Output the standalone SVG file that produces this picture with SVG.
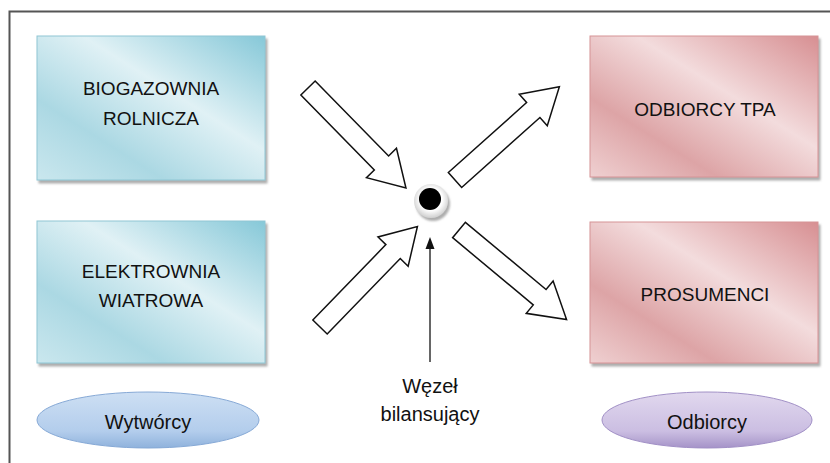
<svg xmlns="http://www.w3.org/2000/svg" xmlns:xlink="http://www.w3.org/1999/xlink" width="830" height="463" viewBox="0 0 830 463">
<style>
  .lbl{font-family:"Liberation Sans",Arial,sans-serif;font-size:19px;fill:#111;text-anchor:middle}
  .lbl2{font-family:"Liberation Sans",Arial,sans-serif;font-size:20px;fill:#111;text-anchor:middle}
  .blk{fill:#fff;stroke:#111;stroke-width:1.5;stroke-linejoin:miter}
</style>
<defs>
  <linearGradient id="gBlue" x1="1" y1="0" x2="0" y2="1">
    <stop offset="0" stop-color="#86c8d8"/>
    <stop offset="0.4" stop-color="#e0f1f5"/>
    <stop offset="0.72" stop-color="#abd8e3"/>
    <stop offset="1" stop-color="#cae7ee"/>
  </linearGradient>
  <linearGradient id="gPink" x1="1" y1="0" x2="0" y2="1">
    <stop offset="0" stop-color="#d78f92"/>
    <stop offset="0.4" stop-color="#f3dcdd"/>
    <stop offset="0.72" stop-color="#dda4a6"/>
    <stop offset="1" stop-color="#efd0d1"/>
  </linearGradient>
  <linearGradient id="gEB" x1="0" y1="0" x2="0" y2="1">
    <stop offset="0" stop-color="#cddff3"/>
    <stop offset="0.7" stop-color="#b3cdec"/>
    <stop offset="1" stop-color="#8fb2dc"/>
  </linearGradient>
  <linearGradient id="gEP" x1="0" y1="0" x2="0" y2="1">
    <stop offset="0" stop-color="#e1d8ee"/>
    <stop offset="0.7" stop-color="#cbbee2"/>
    <stop offset="1" stop-color="#a593c8"/>
  </linearGradient>
  <radialGradient id="gRing" cx="0.5" cy="0.45" r="0.55">
    <stop offset="0.6" stop-color="#ffffff"/>
    <stop offset="1" stop-color="#cfcfcf"/>
  </radialGradient>
  <filter id="sh" x="-10%" y="-10%" width="130%" height="130%">
    <feDropShadow dx="2" dy="3" stdDeviation="1.2" flood-color="#777" flood-opacity="0.6"/>
  </filter>
  <path id="blockArrow" class="blk" d="M0,-10 H105 V-21 L140,0 L105,21 V10 H0 Z"/>
</defs>

<rect width="830" height="463" fill="#fff"/>
<path d="M9.5,463 V11.5 H830" fill="none" stroke="#555" stroke-width="2"/>

<g id="biogazownia">
  <rect x="37" y="36" width="228" height="144" fill="url(#gBlue)" stroke="#8fc6d4" stroke-width="1" filter="url(#sh)"/>
  <text class="lbl" x="151" y="95">BIOGAZOWNIA</text>
  <text class="lbl" x="151" y="125">ROLNICZA</text>
</g>

<g id="elektrownia">
  <rect x="37" y="221" width="228" height="142" fill="url(#gBlue)" stroke="#8fc6d4" stroke-width="1" filter="url(#sh)"/>
  <text class="lbl" x="151" y="278">ELEKTROWNIA</text>
  <text class="lbl" x="151" y="307">WIATROWA</text>
</g>

<g id="odbiorcy-tpa">
  <rect x="590" y="36" width="228" height="141" fill="url(#gPink)" stroke="#d69396" stroke-width="1" filter="url(#sh)"/>
  <text class="lbl" x="705" y="116">ODBIORCY TPA</text>
</g>

<g id="prosumenci">
  <rect x="590" y="222" width="228" height="141" fill="url(#gPink)" stroke="#d69396" stroke-width="1" filter="url(#sh)"/>
  <text class="lbl" x="705" y="301">PROSUMENCI</text>
</g>

<g id="wytworcy">
  <ellipse cx="148" cy="420" rx="111" ry="28" fill="url(#gEB)" stroke="#86a9d6" stroke-width="1"/>
  <text class="lbl2" x="148" y="429">Wytwórcy</text>
</g>

<g id="odbiorcy">
  <ellipse cx="707" cy="420" rx="105" ry="28" fill="url(#gEP)" stroke="#a190c6" stroke-width="1"/>
  <text class="lbl2" x="707" y="429">Odbiorcy</text>
</g>

<g id="wezel">
  <circle cx="431" cy="201" r="17" fill="url(#gRing)" filter="url(#sh)"/>
  <circle cx="430" cy="199" r="11" fill="#000"/>
</g>

<g id="wezel-label">
  <text class="lbl2" x="430" y="393">Węzeł</text>
  <text class="lbl2" x="430" y="421">bilansujący</text>
</g>

<g id="connectors">
  <use xlink:href="#blockArrow" transform="translate(308,88) rotate(45.6)"/>
  <use xlink:href="#blockArrow" transform="translate(455,180) rotate(-41.8)"/>
  <use xlink:href="#blockArrow" transform="translate(320,327) rotate(-45.9)"/>
  <use xlink:href="#blockArrow" transform="translate(459,230) rotate(39.8)"/>
  <line x1="430" y1="362" x2="430" y2="246" stroke="#333" stroke-width="1.5"/>
  <polygon points="430,237 425.5,249 434.5,249" fill="#111"/>
</g>
</svg>
